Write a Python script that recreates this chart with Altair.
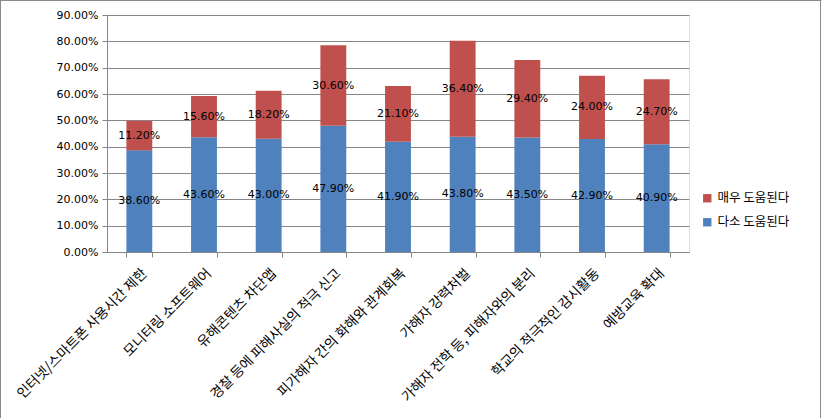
import altair as alt
import pandas as pd

categories = [
    "인터넷/스마트폰 사용시간 제한",
    "모니터링 소프트웨어",
    "유해콘텐츠 차단앱",
    "경찰 등에 피해사실의 적극 신고",
    "피가해자 간의 화해와 관계회복",
    "가해자 강력처벌",
    "가해자 전학 등, 피해자와의 분리",
    "학교의 적극적인 감시활동",
    "예방교육 확대",
]
somewhat = [38.6, 43.6, 43.0, 47.9, 41.9, 43.8, 43.5, 42.9, 40.9]
very = [11.2, 15.6, 18.2, 30.6, 21.1, 36.4, 29.4, 24.0, 24.7]
series = ["매우 도움된다", "다소 도움된다"]
colors = ["#C0504D", "#4F81BD"]
y_ticks = [0.0, 0.1, 0.2, 0.3, 0.4, 0.5, 0.6, 0.7, 0.8, 0.9]

rows = []
for c, s, v in zip(categories, somewhat, very):
    rows.append({"cat": c, "series": series[1], "value": s / 100, "ord": 0})
    rows.append({"cat": c, "series": series[0], "value": v / 100, "ord": 1})
df = pd.DataFrame(rows)

W, H = 582, 237
PL, PT = 107, 15

x_axis = alt.Axis(labelAngle=-45, labelFont="Noto Sans CJK KR", labelFontSize=13.8,
                  labelColor="#000000", domainColor="#868686", tickColor="#868686",
                  tickBand="extent", tickSize=5, labelPadding=9, labelLimit=300)
y_axis = alt.Axis(format=".2%", values=y_ticks, labelOverlap=False,
                  labelFont="DejaVu Sans", labelFontSize=11, labelColor="#000000",
                  domainColor="#868686", tickColor="#868686", tickSize=5,
                  gridColor="#868686", gridWidth=1, labelPadding=4)
x_scale = alt.Scale(paddingInner=0.6, paddingOuter=0.3)
y_scale = alt.Scale(domain=[0, 0.9], nice=False)

base = alt.Chart(df)
bars = base.mark_bar().encode(
    x=alt.X("cat:N", sort=categories, title=None, scale=x_scale, axis=x_axis),
    y=alt.Y("value:Q", stack="zero", title=None, scale=y_scale, axis=y_axis),
    color=alt.Color("series:N", scale=alt.Scale(domain=series, range=colors),
                    legend=alt.Legend(title=None, orient="none", legendX=594, legendY=177,
                                      symbolType="square", symbolSize=70, symbolStrokeWidth=0,
                                      labelFont="Noto Sans CJK KR", labelFontSize=12.5,
                                      labelColor="#000000", rowPadding=11)),
    order=alt.Order("ord:Q"),
)
labels = base.transform_stack(
    stack="value", groupby=["cat"], as_=["y0", "y1"], sort=[alt.SortField("ord")]
).transform_calculate(mid="(datum.y0 + datum.y1) / 2").mark_text(
    font="DejaVu Sans", fontSize=11, color="#000000"
).encode(
    x=alt.X("cat:N", sort=categories, title=None, scale=x_scale, axis=x_axis),
    y=alt.Y("mid:Q", title=None, scale=y_scale, axis=y_axis),
    text=alt.Text("value:Q", format=".2%"),
)

one = pd.DataFrame({"a": [0]})
border = alt.Chart(one).mark_rule(color="#8a8a8a", strokeWidth=1).encode(
    x=alt.value(-PL + 0.5), x2=alt.value(822 - PL - 0.5),
    y=alt.value(-PT + 0.5),
)
border_l = alt.Chart(one).mark_rule(color="#8a8a8a", strokeWidth=1).encode(
    x=alt.value(-PL + 0.5), y=alt.value(-PT), y2=alt.value(418 - PT),
)
border_r = alt.Chart(one).mark_rule(color="#8a8a8a", strokeWidth=1).encode(
    x=alt.value(822 - PL - 1.5), y=alt.value(-PT), y2=alt.value(418 - PT),
)

chart = alt.layer(bars, labels, border, border_l, border_r).properties(
    width=W, height=H,
    autosize=alt.AutoSizeParams(type="none"),
    padding={"left": PL, "top": PT, "right": 822 - PL - W, "bottom": 418 - PT - H},
).configure_view(stroke=None).configure(background="#ffffff")

chart.save("out.html", embed_options={"renderer": "svg", "actions": False})
